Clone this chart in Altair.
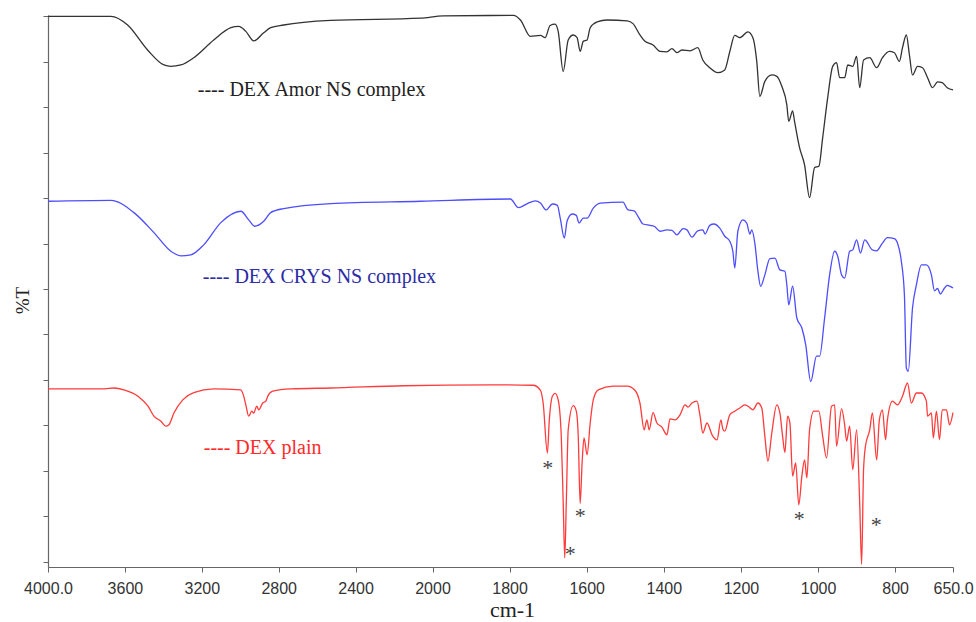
import altair as alt
import pandas as pd

# ---- DEX Amor NS complex (black)
amor_wn = [4000, 3673, 3586, 3482, 3397, 3361, 3309, 3242, 3138, 3049, 3008, 2971, 2930, 2878, 2842, 2774,
           2530, 2062, 1972, 1790, 1772, 1746, 1720, 1708, 1695, 1682, 1674, 1661, 1648, 1635, 1625, 1617,
           1609, 1599, 1591, 1573, 1547, 1495, 1480, 1462, 1449, 1428, 1410, 1392, 1379, 1366, 1353, 1332,
           1312, 1299, 1281, 1260, 1242, 1229, 1216, 1203, 1182, 1169, 1159, 1151, 1138, 1120, 1107, 1094,
           1081, 1076, 1066, 1061, 1048, 1035, 1022, 1009, 998, 988, 975, 962, 952, 944, 931, 923, 910, 900,
           892, 882, 866, 848, 833, 815, 802, 789, 781, 771, 763, 755, 742, 729, 716, 703, 690, 678, 665, 650]
amor_t = [120.0, 120.0, 118.1, 112.6, 109.3, 109.0, 109.3, 110.9, 114.8, 117.5, 117.8, 116.7, 114.6, 116.4, 117.5, 118.1,
          119.1, 119.6, 120.1, 120.2, 119.2, 115.6, 115.8, 115.3, 118.0, 118.3, 116.7, 107.9, 114.8, 115.9, 115.3, 112.3,
          114.5, 114.8, 117.5, 118.8, 119.2, 119.0, 118.4, 115.9, 114.5, 113.7, 112.3, 112.2, 112.9, 112.0, 112.6, 112.4,
          113.1, 110.4, 108.7, 107.6, 108.2, 112.2, 115.8, 115.3, 116.6, 115.3, 110.1, 102.4, 105.7, 107.1, 106.8, 104.6,
          100.5, 96.9, 99.2, 96.9, 91.1, 87.3, 80.1, 86.7, 87.0, 93.3, 102.1, 109.0, 109.8, 106.5, 106.5, 109.3, 109.0, 111.2,
          104.3, 110.4, 110.9, 108.7, 110.9, 112.3, 112.0, 110.1, 113.1, 115.9, 111.5, 107.1, 109.0, 108.7, 106.5, 104.3, 105.6, 105.4, 104.3, 103.8]

# ---- DEX CRYS NS complex (blue)
crys_wn = [4000, 3673, 3553, 3449, 3361, 3309, 3257, 3190, 3101, 2997, 2956, 2925, 2878, 2842, 2774, 2530, 2062,
           1798, 1777, 1754, 1733, 1720, 1705, 1689, 1676, 1669, 1658, 1651, 1638, 1627, 1620, 1609, 1599, 1583,
           1565, 1506, 1493, 1477, 1467, 1454, 1436, 1425, 1410, 1392, 1379, 1366, 1350, 1340, 1327, 1312, 1299,
           1293, 1281, 1270, 1255, 1242, 1229, 1221, 1216, 1208, 1195, 1185, 1177, 1172, 1164, 1156, 1149, 1138,
           1125, 1112, 1099, 1086, 1081, 1076, 1066, 1055, 1042, 1032, 1019, 1004, 996, 983, 970, 957, 949, 939,
           931, 918, 910, 900, 890, 879, 859, 848, 833, 820, 802, 794, 784, 776, 771, 766, 755, 745, 732, 719,
           706, 698, 690, 683, 672, 665, 650]
crys_t = [79.3, 79.5, 76.8, 72.4, 68.3, 67.3, 67.5, 69.7, 74.6, 77.1, 75.2, 73.8, 74.9, 76.8, 77.7, 78.8, 79.3,
          79.8, 77.9, 78.8, 79.4, 78.9, 77.4, 78.7, 78.4, 75.7, 71.2, 74.9, 76.5, 76.2, 74.5, 75.6, 75.6, 77.8,
          78.9, 79.1, 77.4, 77.2, 76.0, 74.3, 74.0, 73.8, 72.7, 73.0, 72.9, 71.9, 73.3, 73.0, 71.4, 72.8, 73.0,
          72.1, 74.0, 74.3, 73.4, 71.6, 70.5, 68.3, 64.6, 72.7, 75.2, 74.5, 72.1, 73.0, 70.1, 63.9, 60.6, 63.1,
          66.7, 66.8, 64.2, 63.9, 60.9, 56.5, 60.6, 53.6, 51.4, 47.7, 39.6, 45.2, 45.2, 53.6, 63.1, 68.3, 67.2, 63.1,
          62.4, 68.3, 68.6, 70.8, 67.9, 70.8, 68.6, 68.4, 70.1, 71.3, 71.1, 70.1, 66.1, 58.7, 42.6, 41.9, 55.8, 60.9, 65.3, 65.3,
          63.1, 59.6, 60.1, 58.9, 60.2, 60.8, 60.2]

# ---- DEX plain (red)
plain_wn = [4000, 3709, 3657, 3605, 3532, 3480, 3449, 3413, 3387, 3371, 3345, 3299, 3242, 3138, 2997, 2982, 2971,
            2956, 2940, 2930, 2914, 2904, 2883, 2867, 2857, 2831, 2738, 2530, 2151, 1850, 1739, 1720, 1713, 1702,
            1697, 1689, 1682, 1674, 1666, 1661, 1657, 1653, 1648, 1635, 1627, 1622, 1617, 1612, 1607, 1599, 1591,
            1583, 1570, 1532, 1495, 1475, 1462, 1451, 1444, 1438, 1428, 1418, 1405, 1392, 1384, 1371, 1358, 1345,
            1337, 1327, 1314, 1306, 1299, 1288, 1275, 1262, 1252, 1247, 1242, 1229, 1216, 1203, 1190, 1182, 1169,
            1156, 1146, 1138, 1130, 1120, 1107, 1099, 1092, 1086, 1079, 1073, 1066, 1058, 1050, 1042, 1035, 1029,
            1022, 1011, 998, 988, 978, 965, 957, 952, 939, 931, 926, 918, 910, 900, 892, 887, 882, 877, 866, 859,
            848, 841, 833, 825, 820, 807, 794, 781, 768, 758, 745, 732, 719, 716, 706, 701, 693, 685, 678, 667, 659, 650]
plain_t = [38.0, 38.0, 38.2, 37.8, 36.4, 34.2, 32.0, 30.9, 29.8, 30.1, 32.7, 35.6, 37.2, 38.0, 37.8, 36.4, 34.5,
           32.0, 33.1, 32.7, 34.2, 33.4, 34.9, 35.3, 36.4, 37.5, 38.0, 38.2, 38.7, 38.9, 38.8, 37.7, 34.9, 23.9,
           31.2, 36.4, 37.0, 35.6, 27.6, 12.9, 0.8, 12.9, 29.0, 34.3, 33.1, 27.6, 12.8, 21.7, 27.2, 23.5, 30.5,
           35.6, 37.8, 38.6, 38.6, 37.7, 34.9, 29.0, 31.2, 29.0, 32.8, 30.5, 29.6, 27.9, 31.4, 31.2, 32.3, 34.5,
           34.0, 34.9, 35.3, 32.0, 28.3, 30.5, 27.9, 26.8, 31.2, 29.2, 28.7, 32.3, 33.1, 33.8, 34.5, 34.2, 33.4,
           34.9, 33.8, 27.6, 22.1, 28.3, 34.5, 32.7, 27.6, 24.0, 32.0, 30.5, 18.8, 21.7, 12.5, 18.8, 22.4, 18.4,
           29.0, 33.1, 33.1, 27.6, 22.8, 34.2, 34.5, 25.4, 33.6, 30.1, 26.5, 29.8, 20.2, 29.0, 12.9, -0.6, 20.2, 25.4, 29.0, 32.7,
           22.4, 31.2, 33.4, 26.8, 31.2, 35.3, 34.5, 36.4, 39.3, 34.9, 37.1, 37.1, 35.3, 32.0, 32.7, 27.2, 33.1, 26.8, 33.4, 33.4, 30.1, 32.8]

series_names = ["DEX Amor NS complex", "DEX CRYS NS complex", "DEX plain"]
line_colors = ["#333333", "#4d4dff", "#ff3b3b"]
text_colors = ["#222222", "#2b2ba6", "#ff2a2a"]

# series labels (anchor in data units)
label_text = ["---- DEX Amor NS complex", "---- DEX CRYS NS complex", "---- DEX plain"]
label_wn = [3221, 3195, 3190]
label_t = [103.8, 62.7, 25.1]

# asterisk marks on the DEX plain spectrum
star_wn = [1701, 1617, 1643, 1049, 849]
star_t = [21.3, 10.7, 2.4, 10.1, 8.7]

x_ticks = [4000, 3600, 3200, 2800, 2400, 2000, 1800, 1600, 1400, 1200, 1000, 800, 650]

rows = []
for name, wns, ts in zip(series_names, [amor_wn, crys_wn, plain_wn], [amor_t, crys_t, plain_t]):
    for w, t in zip(wns, ts):
        rows.append({"wn": w, "T": t, "series": name})
df = pd.DataFrame(rows)

labels_df = pd.DataFrame({"wn": label_wn, "T": label_t, "text": label_text, "series": series_names})
stars_df = pd.DataFrame({"wn": star_wn, "T": star_t, "text": ["*"] * len(star_wn)})

W, H = 905, 552
xscale = alt.Scale(domain=[4000, 2000, 650], range=[0, 384.5, W], zero=False, nice=False)
yscale = alt.Scale(domain=[-1.2, 120.3], zero=False, nice=False)

xaxis = alt.Axis(
    values=x_ticks,
    labelExpr="datum.value == 4000 ? '4000.0' : (datum.value == 650 ? '650.0' : datum.value)",
    title="cm-1", titleFont="Liberation Serif", titleFontSize=22, titleFontWeight="normal",
    titleColor="#222222", titleX=464, titleY=42, titleBaseline="middle",
    labelFont="Liberation Sans", labelFontSize=16, labelColor="#333333", labelPadding=8,
    labelOverlap=False, labelFlush=False,
    grid=False, tickSize=5, tickColor="#666666", domainColor="#666666", domainWidth=1.2,
)
yaxis = alt.Axis(
    values=list(range(0, 121, 10)), labels=False,
    title="%T", titleFont="Liberation Serif", titleFontSize=19, titleFontWeight="normal",
    titleColor="#222222", titleAngle=-90, titleX=-26, titleY=285, titleBaseline="middle",
    titleAlign="center",
    grid=False, tickSize=5, tickColor="#666666", domainColor="#666666", domainWidth=1.2,
)

lines = alt.Chart(df).mark_line(strokeWidth=1.3, interpolate="monotone").encode(
    x=alt.X("wn:Q", scale=xscale, axis=xaxis),
    y=alt.Y("T:Q", scale=yscale, axis=yaxis),
    color=alt.Color("series:N", scale=alt.Scale(domain=series_names, range=line_colors), legend=None),
    detail="series:N",
)

labels = alt.Chart(labels_df).mark_text(
    align="left", baseline="middle", font="Liberation Serif", fontSize=20
).encode(
    x=alt.X("wn:Q", scale=xscale),
    y=alt.Y("T:Q", scale=yscale),
    text="text:N",
    color=alt.Color("series:N", scale=alt.Scale(domain=series_names, range=text_colors), legend=None),
)

stars = alt.Chart(stars_df).mark_text(
    align="center", baseline="alphabetic", dy=10, font="Liberation Serif", fontSize=22, color="#444444"
).encode(
    x=alt.X("wn:Q", scale=xscale),
    y=alt.Y("T:Q", scale=yscale),
    text="text:N",
)

chart = alt.layer(lines, labels, stars).resolve_scale(color="independent").properties(
    width=W, height=H,
    autosize=alt.AutoSizeParams(type="none"),
    padding={"left": 48, "top": 15, "right": 23, "bottom": 55},
    background="white",
).configure_view(stroke=None)

chart.save("out.html", embed_options={"renderer": "svg", "actions": False})
